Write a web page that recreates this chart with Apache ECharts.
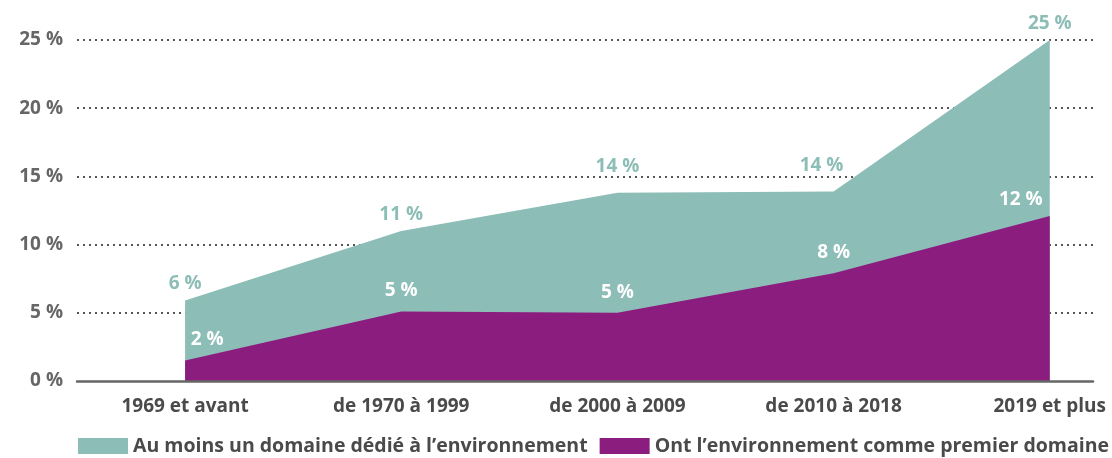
<!DOCTYPE html>
<html><head><meta charset="utf-8">
<script src="https://cdn.jsdelivr.net/npm/echarts@6/dist/echarts.min.js"></script>
<style>html,body{margin:0;padding:0;background:#fff}#c{width:1112px;height:458px}</style>
</head><body><div id="c"></div>
<script>
const categories = ['1969 et avant', 'de 1970 à 1999', 'de 2000 à 2009', 'de 2010 à 2018', '2019 et plus'];
const auMoinsUn = [5.9, 11.0, 13.8, 13.9, 25.0];
const premierDomaine = [1.5, 5.1, 5.0, 7.9, 12.1];
const yTicks = [0, 5, 10, 15, 20, 25];
const seriesNames = ['Au moins un domaine dédié à l’environnement', 'Ont l’environnement comme premier domaine'];

const GREEN = '#8dbdb7', PURPLE = '#8b1d7f', TXT = '#4a4a4a', FONT = '"Open Sans", sans-serif', FS = 19;
const pct = v => Math.round(v) + '\u00a0%';

const greenOffsets = [[0,0],[0,0],[0,-10],[-12,-9],[0,0]];
const purpleOffsets = [[22,0],[0,0],[0,0],[0,0],[-29,4]];

const chart = echarts.init(document.getElementById('c'), null, {renderer: 'canvas'});
chart.setOption({
  animation: false,
  grid: {left: 77, right: 19, top: 40, bottom: 77, containLabel: false},
  legend: {
    bottom: -3, left: 78, width: 1100, padding: [5, 0, 5, 0], itemWidth: 50, itemHeight: 16, itemGap: 12, icon: 'rect',
    textStyle: {color: TXT, fontFamily: FONT, fontWeight: 'bold', fontSize: 19.5},
    data: seriesNames
  },
  xAxis: {
    type: 'value', min: -0.5, max: 4.2, interval: 0.5, z: 5,
    axisLine: {show: true, lineStyle: {color: '#666', width: 2.5}},
    axisTick: {show: false}, splitLine: {show: false},
    axisLabel: {
      margin: 16, showMaxLabel: false,
      color: TXT, fontFamily: FONT, fontWeight: 'bold', fontSize: FS,
      formatter: v => (Math.abs(v - Math.round(v)) < 1e-6 && v >= 0 && v < categories.length) ? categories[Math.round(v)] : ''
    }
  },
  yAxis: {
    type: 'value', min: 0, max: 25, interval: 5,
    axisLine: {show: false}, axisTick: {show: false},
    splitLine: {show: true, showMinLine: false, lineStyle: {color: '#555', type: [2, 4], width: 2}},
    axisLabel: {margin: 14, color: '#666', fontFamily: FONT, fontWeight: 'bold', fontSize: FS,
      formatter: v => yTicks.includes(v) ? v + '\u00a0%' : ''}
  },
  series: [
    {
      name: seriesNames[0], type: 'line', symbol: 'circle', symbolSize: 0.01, showSymbol: true, z: 2,
      lineStyle: {width: 0}, itemStyle: {color: GREEN},
      areaStyle: {color: GREEN, opacity: 1},
      data: auMoinsUn.map((v, i) => ({value: [i, v], label: {offset: greenOffsets[i]}})),
      label: {show: true, position: 'top', distance: 7, color: GREEN, fontFamily: FONT, fontWeight: 'bold', fontSize: FS,
        formatter: p => pct(p.value[1])}
    },
    {
      name: seriesNames[1], type: 'line', symbol: 'circle', symbolSize: 0.01, showSymbol: true, z: 3,
      lineStyle: {width: 0}, itemStyle: {color: PURPLE},
      areaStyle: {color: PURPLE, opacity: 1},
      data: premierDomaine.map((v, i) => ({value: [i, v], label: {offset: purpleOffsets[i]}})),
      label: {show: true, position: 'top', distance: 11, color: '#fff', fontFamily: FONT, fontWeight: 'bold', fontSize: FS,
        formatter: p => pct(p.value[1])}
    }
  ]
});
</script></body></html>
